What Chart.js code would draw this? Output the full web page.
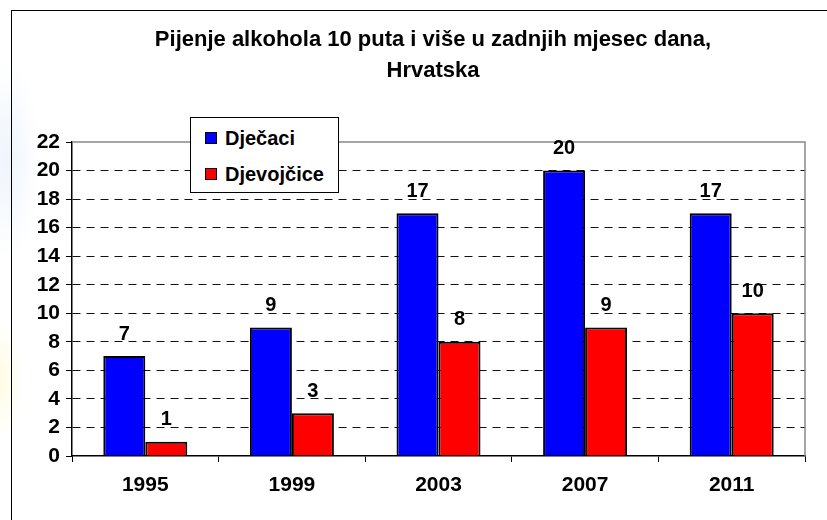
<!DOCTYPE html>
<html>
<head>
<meta charset="utf-8">
<script src="https://cdn.jsdelivr.net/npm/chart.js@4"></script>
<style>
    html, body { margin: 0; padding: 0; background: #fff; }
    #wrap {
        position: relative; width: 827px; height: 520px; overflow: hidden;
        background:
            radial-gradient(ellipse 34px 100px at 6px 160px, #eef5fc 0%, rgba(238,245,252,0) 100%),
            radial-gradient(ellipse 24px 60px at 0px 380px, #fffce3 0%, rgba(255,252,227,0) 100%),
            #fff;
    }
    #frame {
        position: absolute; left: 11px; top: 10px; width: 900px; height: 600px;
        border-left: 1.5px solid #000; border-top: 1.5px solid #000;
    }
    canvas { position: absolute; left: 0; top: 0; }
    #legend {
        position: absolute; left: 190px; top: 117px; width: 147px; height: 74px;
        border: 1px solid #000; background: #fff;
        font: bold 20px "Liberation Sans", Arial, sans-serif;
    }
    .item { position: absolute; left: 14px; height: 24px; line-height: 24px; }
    .item span.box {
        display: inline-block; width: 10px; height: 10px; border: 1px solid #000;
        margin-right: 8px; vertical-align: 1px;
    }
</style>
</head>
<body>
<div id="wrap">
    <div id="frame"></div>
    <canvas id="chart" width="827" height="520"></canvas>
    <div id="legend"></div>
</div>
<script>
const titleLines = ['Pijenje alkohola 10 puta i više u zadnjih mjesec dana,', 'Hrvatska'];
const years = ['1995', '1999', '2003', '2007', '2011'];
const boys = [7, 9, 17, 20, 17];
const girls = [1, 3, 8, 9, 10];
const seriesNames = ['Dječaci', 'Djevojčice'];
const seriesColors = ['#0000ff', '#ff0000'];
const yTicks = [0, 2, 4, 6, 8, 10, 12, 14, 16, 18, 20, 22];

const FONT = '"Liberation Sans", Arial, sans-serif';

// title + value labels + grey plot border
const extras = {
    id: 'extras',
    beforeDraw(chart) {
        const ctx = chart.ctx;
        ctx.save();
        ctx.fillStyle = '#000';
        ctx.font = 'bold 22px ' + FONT;
        ctx.textAlign = 'center';
        ctx.textBaseline = 'middle';
        ctx.fillText(titleLines[0], 433, 40);
        ctx.fillText(titleLines[1], 433, 71);
        ctx.restore();
    },
    afterDatasetsDraw(chart) {
        const ctx = chart.ctx;
        const a = chart.chartArea;
        ctx.save();
        ctx.strokeStyle = '#888';
        ctx.lineWidth = 1.5;
        ctx.beginPath();
        ctx.moveTo(a.left, a.top);
        ctx.lineTo(a.right, a.top);
        ctx.lineTo(a.right, a.bottom);
        ctx.stroke();

        ctx.fillStyle = '#000';
        ctx.font = 'bold 20px ' + FONT;
        ctx.textAlign = 'center';
        ctx.textBaseline = 'middle';
        chart.data.datasets.forEach((ds, i) => {
            chart.getDatasetMeta(i).data.forEach((bar, j) => {
                ctx.fillText(String(ds.data[j]), bar.x, bar.y - 22);
            });
        });
        ctx.restore();
    }
};

const chart = new Chart(document.getElementById('chart'), {
    type: 'bar',
    data: {
        labels: years,
        datasets: [
            { label: seriesNames[0], data: boys, backgroundColor: seriesColors[0], borderColor: '#000', borderWidth: 2, borderSkipped: 'bottom' },
            { label: seriesNames[1], data: girls, backgroundColor: seriesColors[1], borderColor: '#000', borderWidth: 2, borderSkipped: 'bottom' }
        ]
    },
    options: {
        responsive: false,
        animation: false,
        events: [],
        layout: { padding: { left: 0, right: 22, top: 142, bottom: 0 } },
        datasets: { bar: { categoryPercentage: 0.573, barPercentage: 1 } },
        plugins: { legend: { display: false }, tooltip: { enabled: false }, title: { display: false } },
        scales: {
            x: {
                grid: { offset: true, drawOnChartArea: false, color: '#000', tickLength: 6 },
                border: { color: '#000', width: 1.5 },
                ticks: { color: '#000', padding: 11, font: { family: FONT, size: 21, weight: 'bold' } },
                afterFit(scale) { scale.height = 64; }
            },
            y: {
                min: 0,
                max: 22,
                afterBuildTicks(scale) { scale.ticks = yTicks.map(v => ({ value: v })); },
                grid: {
                    color: c => (c.tick && (c.tick.value === 22 || c.tick.value === 0)) ? 'rgba(0,0,0,0)' : '#111',
                    tickColor: '#000',
                    tickLength: 6
                },
                border: { color: '#000', width: 1.5, dash: [8, 6] },
                ticks: { color: '#000', padding: 6, font: { family: FONT, size: 21, weight: 'bold' } },
                afterFit(scale) { scale.width = 72; }
            }
        }
    },
    plugins: [extras]
});

// legend box drawn in html on top of the plot
const legend = document.getElementById('legend');
seriesNames.forEach((name, i) => {
    const item = document.createElement('div');
    item.className = 'item';
    item.style.top = (i === 0 ? 8 : 44) + 'px';
    item.innerHTML = `<span class="box" style="background:${seriesColors[i]}"></span>${name}`;
    legend.appendChild(item);
});
</script>
</body>
</html>
